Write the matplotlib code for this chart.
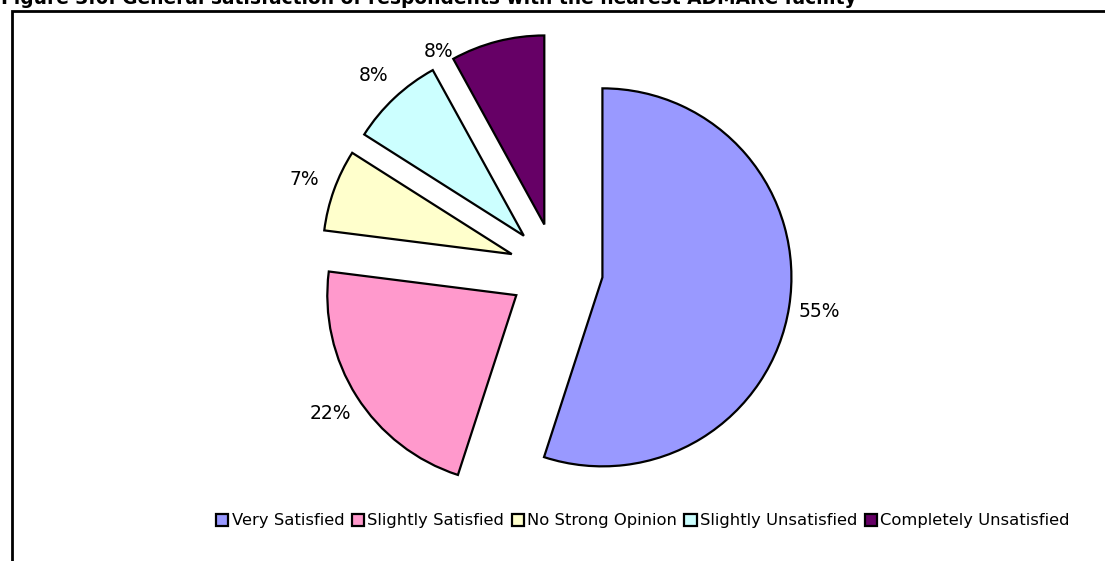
"""Pie chart: general satisfaction of respondents with the nearest ADMARC facility."""

import numpy as np
import matplotlib
matplotlib.use("Agg")
import matplotlib.pyplot as plt
from matplotlib.patches import Rectangle

# data
categories = ["Very Satisfied", "Slightly Satisfied", "No Strong Opinion",
              "Slightly Unsatisfied", "Completely Unsatisfied"]
shares = [55, 22, 7, 8, 8]
colors = ["#9999FF", "#FF99CC", "#FFFFCC", "#CCFFFF", "#660066"]
title = "Figure 3.6: General satisfaction of respondents with the nearest ADMARC facility"

# layout (pixel units, y measured upward)
W, H = 1105, 561
CENTER = (556, H - 270)
RADIUS = 189
EXPLODE = 47          # pie() offsets exploded wedges in data units
LABEL_DIST = 220
# Excel pushed the last label away from the frame edge
label_nudge = [0, 0, 0, 0, 17]
label_scale = [1, 1, 1, 1, 0.92]

plt.rcParams["font.family"] = ["DejaVu Sans"]

fig = plt.figure(figsize=(W / 100, H / 100), dpi=100)
ax = fig.add_axes([0, 0, 1, 1])

wedges, _ = ax.pie(shares, colors=colors, startangle=90, counterclock=False,
                   center=CENTER, radius=RADIUS, explode=[EXPLODE] * len(shares),
                   wedgeprops=dict(edgecolor="black", linewidth=1.6, joinstyle="miter"))

for w, val, nudge, sc in zip(wedges, shares, label_nudge, label_scale):
    mid = np.deg2rad((w.theta1 + w.theta2) / 2)
    vx = CENTER[0] + EXPLODE * np.cos(mid)
    vy = CENTER[1] + EXPLODE * np.sin(mid)
    ang = mid + np.deg2rad(nudge)
    ax.text(vx + LABEL_DIST * sc * np.cos(ang), vy + LABEL_DIST * sc * np.sin(ang),
            f"{val}%", ha="center", va="center", fontsize=13.5, color="black")

# chart frame (top and left edges visible, rest runs off the image)
ax.add_patch(Rectangle((12, -20), W + 20, H - 11 + 20, fill=False,
                       edgecolor="black", linewidth=2))

ax.set_xlim(0, W)
ax.set_ylim(0, H)
ax.set_aspect("equal")
ax.axis("off")

fig.text(1 / W, 1 + 1 / H, title, ha="left", va="center", fontsize=13.4,
         fontweight="bold")

fig.legend(wedges, categories, loc="center", bbox_to_anchor=(643 / W, 1 - 521 / H),
           ncol=5, frameon=False, fontsize=11.8, handlelength=0.75, handleheight=0.75,
           handletextpad=0.2, columnspacing=0.45, borderpad=0)

fig.savefig("out.png", dpi=100)
